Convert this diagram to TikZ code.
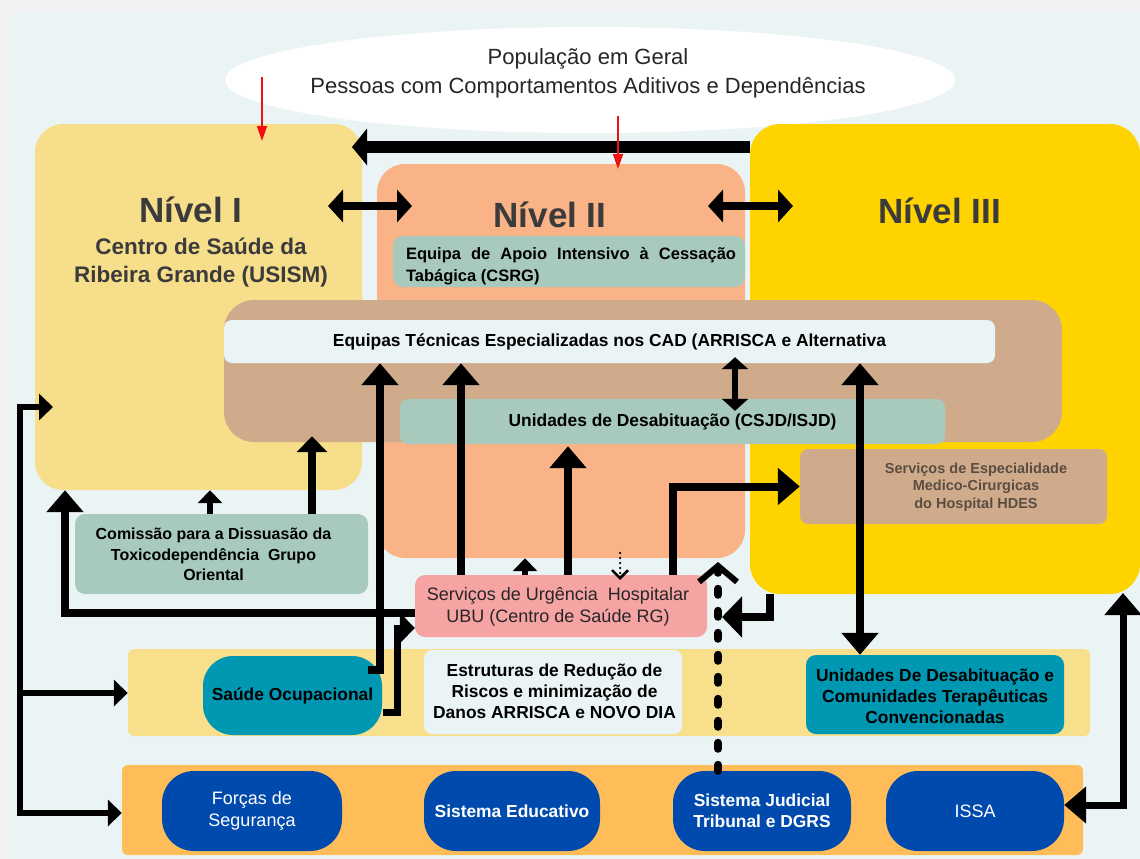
\documentclass[tikz,border=0pt]{standalone}
\usepackage{fontspec}
\setmainfont{Liberation Sans}
\usetikzlibrary{arrows.meta,shapes.geometric,calc}
\definecolor{bgout}{HTML}{F1F1F1}
\definecolor{bgin}{HTML}{EBF4F5}
\definecolor{lvlA}{HTML}{F7DE8B}
\definecolor{lvlB}{HTML}{F9B387}
\definecolor{lvlC}{HTML}{FFD300}
\definecolor{brownc}{HTML}{CFAB8B}
\definecolor{greenc}{HTML}{A8CABD}
\definecolor{pinkc}{HTML}{F6A3A4}
\definecolor{tealc}{HTML}{0097B2}
\definecolor{bluec}{HTML}{004AAD}
\definecolor{orangec}{HTML}{FFBD59}
\definecolor{bandc}{HTML}{F7DF8C}
\definecolor{headc}{HTML}{3B3B3B}
\definecolor{espc}{HTML}{5B4D42}
\definecolor{redc}{HTML}{F01010}
\tikzset{
  area/.style={draw=none, inner sep=0pt},
  heading/.style={font=\fontsize{35}{40}\selectfont\bfseries, text=headc},
  btext/.style={font=\fontsize{17.4}{21}\selectfont\bfseries, align=center, text=black},
  rtext/.style={font=\fontsize{18}{22}\selectfont, align=center},
  conn/.style={draw=black, line width=8pt},
  tipbig/.style={-{Triangle[width=36pt,length=22pt]}},
  tipbigboth/.style={{Triangle[width=36pt,length=22pt]}-{Triangle[width=36pt,length=22pt]}},
  tipmed/.style={-{Triangle[width=30pt,length=16pt]}},
  tipmedboth/.style={{Triangle[width=32pt,length=15pt]}-{Triangle[width=32pt,length=15pt]}},
  tipsmall/.style={-{Triangle[width=24pt,length=13pt]}},
  redarr/.style={draw=redc, line width=1.8pt, -{Triangle[width=10pt,length=15pt]}},
}
\begin{document}
\begin{tikzpicture}[x=1pt,y=-1pt]
\useasboundingbox (0,0) rectangle (1140,859);
\fill[bgout] (0,0) rectangle (1140,859);
\fill[bgin] (12,11) rectangle (1140,859);

% ellipse
\node[area, ellipse, fill=white, minimum width=730pt, minimum height=106pt] (pop) at (590,80) {};
\node[font=\fontsize{22}{29}\selectfont, align=center, text=black!85] (poptext) at (588,73.5)
  {População em Geral\\Pessoas com Comportamentos Aditivos e Dependências};

% levels
\node[area, fill=lvlA, rounded corners=28pt, minimum width=327pt, minimum height=366pt] (lvl1) at (198.5,307) {};
\node[area, fill=lvlB, rounded corners=28pt, minimum width=368pt, minimum height=394pt] (lvl2) at (561,361) {};
\node[area, fill=lvlC, rounded corners=30pt, minimum width=390pt, minimum height=470pt] (lvl3) at (945,359) {};

\node[heading] (h1) at (191,210) {Nível I};
\node[heading] (h2) at (550,215) {Nível II};
\node[heading] (h3) at (939.5,211) {Nível III};
\node[font=\fontsize{22.5}{28}\selectfont\bfseries, text=headc, align=center] (csrg) at (201,263)
  {Centro de Saúde da\\Ribeira Grande (USISM)};

% inner boxes
\node[area, fill=greenc, rounded corners=10pt, minimum width=352pt, minimum height=51pt] (apoio) at (569,261.5) {};
\node[font=\fontsize{16.5}{22}\selectfont\bfseries, text width=330pt, align=justify, inner sep=0pt] (apoiot) at (571,266)
  {Equipa de Apoio Intensivo à Cessação Tabágica (CSRG)};

\node[area, fill=brownc, rounded corners=30pt, minimum width=838pt, minimum height=142pt] (cad) at (643,371) {};
\node[area, fill=bgin, rounded corners=8pt, minimum width=771pt, minimum height=43pt, btext] (cadbar) at (609.5,341.5)
  {Equipas Técnicas Especializadas nos CAD (ARRISCA e Alternativa};
\node[area, fill=greenc, rounded corners=8pt, minimum width=545pt, minimum height=45pt, btext] (desab) at (672.5,421.5)
  {Unidades de Desabituação (CSJD/ISJD)};

\node[area, fill=brownc, rounded corners=8pt, minimum width=307pt, minimum height=75pt] (esp) at (953.5,486.5) {};
\node[font=\fontsize{14.5}{17.5}\selectfont\bfseries, text=espc, align=center] (espt) at (976,487)
  {Serviços de Especialidade\\Medico-Cirurgicas\\do Hospital HDES};

\node[area, fill=greenc, rounded corners=10pt, minimum width=293pt, minimum height=80pt] (cdt) at (221.5,554) {};
\node[font=\fontsize{16}{20.5}\selectfont\bfseries, align=center] (cdtt) at (213.5,554.5)
  {Comissão para a Dissuasão da\\Toxicodependência~ Grupo\\Oriental};

\node[area, fill=pinkc, rounded corners=10pt, minimum width=292pt, minimum height=62pt] (ubu) at (561,606) {};
\node[rtext, text=black!85] (ubut) at (558,607) {Serviços de Urgência~ Hospitalar\\UBU (Centro de Saúde RG)};

% bands
\node[area, fill=bandc, rounded corners=6pt, minimum width=962pt, minimum height=87pt] (band1) at (609,692.5) {};
\node[area, fill=tealc, rounded corners=30pt, minimum width=179pt, minimum height=79pt, btext] (socup) at (292.5,695.5) {Saúde Ocupacional};
\node[area, fill=bgin, rounded corners=8pt, minimum width=258pt, minimum height=84pt] (estr) at (553,692) {};
\node[btext] (estrt) at (554.5,691) {Estruturas de Redução de\\Riscos e minimização de\\Danos ARRISCA e NOVO DIA};
\node[area, fill=tealc, rounded corners=10pt, minimum width=258pt, minimum height=79pt] (uconv) at (935,694.5) {};
\node[btext] (uconvt) at (935,696) {Unidades De Desabituação e\\Comunidades Terapêuticas\\Convencionadas};

\node[area, fill=orangec, rounded corners=6pt, minimum width=961pt, minimum height=90pt] (band2) at (602.5,810) {};
\node[area, fill=bluec, rounded corners=32pt, minimum width=180pt, minimum height=80pt, rtext, text=white] (forcas) at (252,811) {Forças de\\Segurança};
\node[area, fill=bluec, rounded corners=32pt, minimum width=176pt, minimum height=80pt, btext, text=white] (educ) at (512,811) {Sistema Educativo};
\node[area, fill=bluec, rounded corners=32pt, minimum width=178pt, minimum height=80pt, btext, text=white] (judic) at (762,811) {Sistema Judicial\\Tribunal e DGRS};
\node[area, fill=bluec, rounded corners=32pt, minimum width=178pt, minimum height=80pt, rtext, text=white] (issa) at (975,811) {ISSA};

% free coordinates
\coordinate (r1s) at (262,77);
\coordinate (r1e) at (262,141);
\coordinate (r2s) at (618,116);
\coordinate (r2e) at (618,169);
\coordinate (topY) at (0,147);
\coordinate (topE) at (352,147);
\coordinate (dA1) at (328,206);
\coordinate (dA2) at (412,206);
\coordinate (dB1) at (708,206);
\coordinate (dB2) at (793,206);
\coordinate (x380) at (380,0);
\coordinate (x461) at (461,0);
\coordinate (x568) at (568,0);
\coordinate (x312) at (312,0);
\coordinate (x210) at (210,0);
\coordinate (x525) at (525,0);
\coordinate (x673) at (673,0);
\coordinate (x860) at (860,0);
\coordinate (x735) at (735,0);
\coordinate (x65) at (65,0);
\coordinate (x718) at (718,0);
\coordinate (lb1) at (20,407);
\coordinate (lb1e) at (53,407);
\coordinate (lb2) at (20,693);
\coordinate (lb3) at (20,813);
\coordinate (dotTop) at (718,562);
\coordinate (smallDs) at (620,553);
\coordinate (smallDe) at (620,580);
\coordinate (rgtTop) at (1123,593);
\coordinate (rgtCorner) at (1123,805);
\coordinate (l3c) at (770,617);
\coordinate (l3e) at (722,617);
\coordinate (socupA) at (368,670);
\coordinate (socupB) at (383,712);
\coordinate (ubuIn) at (0,628);
\coordinate (ubuOut) at (0,613);

% connectors
\draw[conn, line width=12pt, -{Triangle[width=36pt,length=15pt]}] (lvl3.west |- topY) -- (topE);
\draw[conn, line width=8pt, tipmedboth] (dA1) -- (dA2);
\draw[conn, line width=8pt, tipmedboth] (dB1) -- (dB2);
\draw[conn, line width=6pt, {Triangle[width=26pt,length=12pt]}-{Triangle[width=26pt,length=12pt]}] (cadbar.south -| x735) ++(0,-6) -- ($(desab.north -| x735)+(0,12)$);

\draw[conn, tipbig] (socupA) -| (cadbar.south -| x380);
\draw[conn, tipbig] (ubu.north -| x461) -- (cadbar.south -| x461);
\draw[conn, tipbig] (ubu.north -| x568) -- ($(desab.south -| x568)+(0,2)$);
\draw[conn, tipmed] (cdt.north -| x312) -- ($(cad.south -| x312)+(0,-6)$);
\draw[conn, line width=6pt, tipsmall] (cdt.north -| x210) -- (lvl1.south -| x210);
\draw[conn, line width=6pt, tipsmall] (ubu.north -| x525) -- (lvl2.south -| x525);
\draw[conn, tipbig] (ubu.west |- ubuOut) -| (lvl1.south -| x65);
\draw[conn, line width=7pt, -{Triangle[width=30pt,length=15pt]}] (socupB) -- (397,712) |- (ubu.west |- ubuIn);
\draw[conn, tipbig] (ubu.north -| x673) |- (esp.west);
\draw[draw=black, line width=2.5pt, dash pattern=on 0pt off 5pt, line cap=round,
      -{Straight Barb[width=16pt,length=8pt,line width=2.5pt]}] (smallDs) -- (smallDe);
\draw[draw=black, line width=8pt, dash pattern=on 6pt off 16pt, line cap=round,
      -{Straight Barb[width=38pt,length=16pt,line width=6pt]}] (judic.north -| x718) -- (dotTop);
\draw[conn, -{Triangle[width=40pt,length=20pt]}] (lvl3.south -| l3c) -- (l3c) -- (l3e);
\draw[conn, tipbigboth] (cadbar.south -| x860) -- (uconv.north -| x860);
\draw[conn, line width=7pt, tipbigboth] (rgtTop) -- (rgtCorner) -- (issa.east |- rgtCorner);
\draw[conn, line width=6pt, {Triangle[width=26pt,length=14pt]}-{Triangle[width=26pt,length=14pt]}] (lb1e) -- (lb1) -- (lb3) -- (band2.west |- lb3);
\draw[conn, line width=6pt, -{Triangle[width=26pt,length=14pt]}] (lb2) -- (band1.west |- lb2);

\draw[redarr] (r1s) -- (r1e);
\draw[redarr] (r2s) -- (r2e);
\end{tikzpicture}
\end{document}
